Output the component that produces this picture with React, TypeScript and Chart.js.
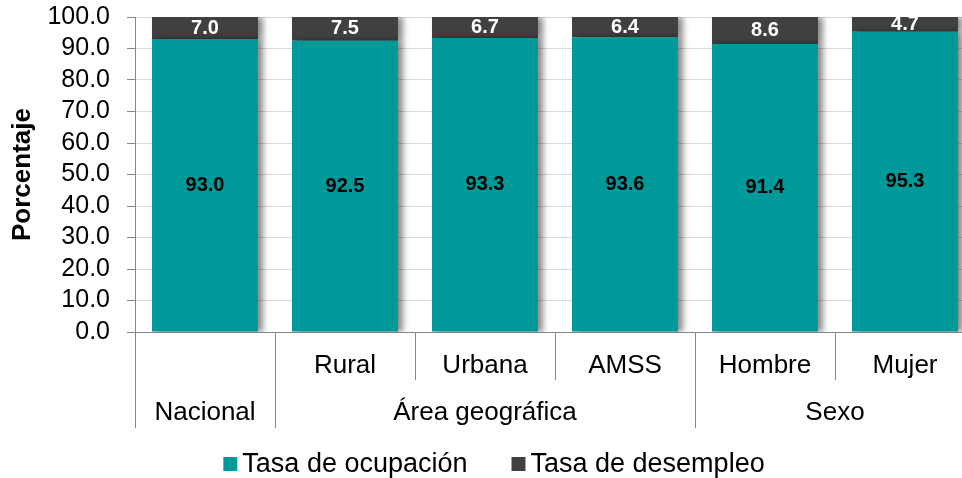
import React, { useEffect, useRef } from "react";
import { Chart, registerables } from "chart.js";

Chart.register(...registerables);

const categories = ["Nacional", "Rural", "Urbana", "AMSS", "Hombre", "Mujer"];
const subLabels = ["", "Rural", "Urbana", "AMSS", "Hombre", "Mujer"];
const groupLabels = ["Nacional", "Área geográfica", "Sexo"];
const groupStarts = [0, 1, 4];
const groupEnds = [0, 3, 5];
const ocupacion = [93.0, 92.5, 93.3, 93.6, 91.4, 95.3];
const desempleo = [7.0, 7.5, 6.7, 6.4, 8.6, 4.7];
const seriesNames = ["Tasa de ocupación", "Tasa de desempleo"];
const seriesColors = ["#009999", "#404040"];
const labelColors = ["#000000", "#ffffff"];

const FONT = "'Liberation Sans', Arial, Helvetica, sans-serif";
const AXIS_GRAY = "#868686";

const shadowPlugin = {
  id: "barShadow",
  beforeDatasetsDraw(chart: any) {
    const c = chart.ctx;
    c.save();
    c.shadowColor = "rgba(0,0,0,0.45)";
    c.shadowBlur = 6;
    c.shadowOffsetX = 5;
    c.shadowOffsetY = 0;
  },
  afterDatasetsDraw(chart: any) {
    chart.ctx.restore();
  },
};

const decorPlugin = {
  id: "decor",
  afterDraw(chart: any) {
    const ctx = chart.ctx;
    const area = chart.chartArea;
    const xScale = chart.scales.x;

    // data labels
    ctx.save();
    ctx.font = `bold 20px ${FONT}`;
    ctx.textAlign = "center";
    ctx.textBaseline = "middle";
    chart.data.datasets.forEach((ds: any, di: number) => {
      const meta = chart.getDatasetMeta(di);
      meta.data.forEach((el: any, i: number) => {
        const p = el.getProps(["x", "y", "base"], true);
        ctx.fillStyle = labelColors[di];
        ctx.fillText(Number(ds.data[i]).toFixed(1), p.x, (p.y + p.base) / 2);
      });
    });
    ctx.restore();

    // hierarchical category axis
    const n = categories.length;
    const catW = (xScale.getPixelForValue(n - 1) - xScale.getPixelForValue(0)) / (n - 1);
    const bottom = area.bottom;
    ctx.save();
    ctx.strokeStyle = AXIS_GRAY;
    ctx.lineWidth = 1;
    const drawSep = (x: number, yEnd: number) => {
      const px = Math.round(x) + 0.5;
      ctx.beginPath();
      ctx.moveTo(px, bottom);
      ctx.lineTo(px, yEnd);
      ctx.stroke();
    };
    for (let i = 0; i < n; i++) {
      const left = xScale.getPixelForValue(i) - catW / 2;
      const full = groupStarts.indexOf(i) >= 0;
      drawSep(left, full ? 428 : 380);
    }
    drawSep(xScale.getPixelForValue(n - 1) + catW / 2, 428);

    ctx.fillStyle = "#000";
    ctx.font = `26px ${FONT}`;
    ctx.textAlign = "center";
    ctx.textBaseline = "alphabetic";
    subLabels.forEach((lab, i) => {
      if (lab) ctx.fillText(lab, xScale.getPixelForValue(i), 373);
    });
    groupLabels.forEach((lab, g) => {
      const cx = (xScale.getPixelForValue(groupStarts[g]) + xScale.getPixelForValue(groupEnds[g])) / 2;
      ctx.fillText(lab, cx, 420);
    });

    // legend
    ctx.font = `27px ${FONT}`;
    const box = 14;
    const gapBox = 5;
    const gapItems = 44;
    const widths = seriesNames.map((s) => box + gapBox + ctx.measureText(s).width);
    const total = widths.reduce((a, b) => a + b, 0) + gapItems * (seriesNames.length - 1);
    let lx = 494 - total / 2;
    const baseY = 472;
    ctx.textAlign = "left";
    seriesNames.forEach((s, i) => {
      ctx.fillStyle = seriesColors[i];
      ctx.fillRect(lx, baseY - box - 1, box, box);
      ctx.fillStyle = "#000";
      ctx.fillText(s, lx + box + gapBox, baseY);
      lx += widths[i] + gapItems;
    });
    ctx.restore();
  },
};

export default function App() {
  const ref = useRef<HTMLCanvasElement | null>(null);

  useEffect(() => {
    if (!ref.current) return;
    const chart = new Chart(ref.current, {
      type: "bar",
      data: {
        labels: categories,
        datasets: [
          {
            label: seriesNames[0],
            data: ocupacion,
            backgroundColor: seriesColors[0],
            categoryPercentage: 1,
            barPercentage: 0.757,
          },
          {
            label: seriesNames[1],
            data: desempleo,
            backgroundColor: seriesColors[1],
            categoryPercentage: 1,
            barPercentage: 0.757,
          },
        ],
      },
      options: {
        responsive: false,
        animation: false,
        layout: { padding: { top: 17, right: 5, bottom: 0, left: 0 } },
        plugins: {
          legend: { display: false },
          tooltip: { enabled: false },
        },
        scales: {
          x: {
            stacked: true,
            grid: { display: false },
            border: { display: true, color: AXIS_GRAY, width: 1 },
            ticks: { display: false },
            afterFit(s: any) {
              s.height = 146;
              s.paddingLeft = 0;
              s.paddingRight = 0;
              s.paddingTop = 0;
              s.paddingBottom = 0;
            },
          },
          y: {
            stacked: true,
            min: 0,
            max: 100,
            ticks: {
              stepSize: 10,
              autoSkip: false,
              color: "#000",
              padding: 17,
              font: { size: 25, family: FONT },
              callback: (v: any) => Number(v).toFixed(1),
            },
            grid: { color: "#d9d9d9", tickColor: AXIS_GRAY, tickLength: 8, lineWidth: 1 },
            border: { color: AXIS_GRAY, width: 1 },
            title: {
              display: true,
              text: "Porcentaje",
              color: "#000",
              font: { size: 26, weight: "bold", family: FONT },
              padding: { top: 7, bottom: 0 },
            },
            afterFit(s: any) {
              s.width = 135;
              s.paddingTop = 0;
              s.paddingBottom = 0;
              s.paddingLeft = 0;
              s.paddingRight = 0;
            },
          },
        },
      } as any,
      plugins: [shadowPlugin, decorPlugin],
    });
    return () => chart.destroy();
  }, []);

  return (
    <div style={{ position: "absolute", left: 0, top: 0, width: 962, height: 478, overflow: "hidden", background: "#fff" }}>
      <canvas ref={ref} width={980} height={478} style={{ display: "block", width: 980, height: 478 }} />
    </div>
  );
}
